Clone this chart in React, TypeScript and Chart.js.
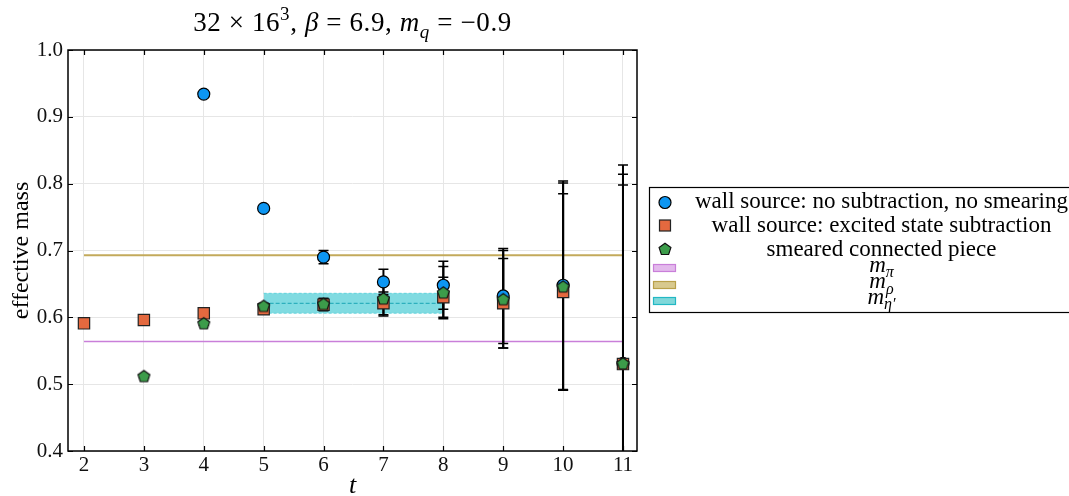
import React, { useEffect, useRef } from "react";
import { Chart, registerables } from "chart.js";

Chart.register(...registerables);

const FONT = "'Liberation Serif', 'Times New Roman', serif";

// axes
const tTicks = [2, 3, 4, 5, 6, 7, 8, 9, 10, 11];
const massTicks = [0.4, 0.5, 0.6, 0.7, 0.8, 0.9, 1.0];
const tRange = [1.733, 11.234];
const massRange = [0.4, 1.0];

// wall source: no subtraction, no smearing
const tWall = [4, 5, 6, 7, 8, 9, 10, 11];
const wallMass = [0.934, 0.763, 0.69, 0.653, 0.648, 0.632, 0.648, 0.531];
const wallErr = [0.002, 0.003, 0.01, 0.019, 0.036, 0.071, 0.156, 0.297];

// wall source: excited state subtraction
const tSub = [2, 3, 4, 5, 6, 7, 8, 9, 10, 11];
const subMass = [0.591, 0.596, 0.606, 0.612, 0.619, 0.621, 0.63, 0.621, 0.638, 0.53];
const subErr = [0.003, 0.003, 0.004, 0.005, 0.009, 0.017, 0.03, 0.067, 0.147, 0.268];

// smeared connected piece
const tSmear = [3, 4, 5, 6, 7, 8, 9, 10, 11];
const smearMass = [0.512, 0.591, 0.617, 0.62, 0.628, 0.637, 0.627, 0.646, 0.531];
const smearErr = [0.002, 0.003, 0.004, 0.008, 0.026, 0.039, 0.073, 0.155, 0.283];

// reference masses
const mPi = 0.564;
const mRho = 0.693;
const mEta = 0.621;
const mEtaErr = 0.015;
const refLineT = [2, 11];
const etaBandT = [5, 8];

// colours
const BLUE = "#0d96f2";
const ORANGE = "#e4693f";
const GREEN = "#3c9c4a";
const PI_LINE = "#c97fd9";
const RHO_LINE = "#c3aa5b";
const ETA_LINE = "#1aa6b4";

type Seg = { t: string; it?: boolean; sc?: "sub" | "sup" };

const titleSegs: Seg[] = [
  { t: "32 × 16" },
  { t: "3", sc: "sup" },
  { t: ", " },
  { t: "β", it: true },
  { t: " = 6.9, " },
  { t: "m", it: true },
  { t: "q", it: true, sc: "sub" },
  { t: " = −0.9" },
];

const legendText = [
  "wall source: no subtraction, no smearing",
  "wall source: excited state subtraction",
  "smeared connected piece",
];
const legendMath: Seg[][] = [
  [{ t: "m", it: true }, { t: "π", it: true, sc: "sub" }],
  [{ t: "m", it: true }, { t: "ρ", it: true, sc: "sub" }],
  [{ t: "m", it: true }, { t: "η′", it: true, sc: "sub" }],
];

function drawRich(
  ctx: CanvasRenderingContext2D,
  segs: Seg[],
  cx: number,
  base: number,
  size: number,
  spacing = 0
) {
  const fontFor = (s: Seg) => `${s.it ? "italic " : ""}${s.sc ? Math.round(size * 0.7) : size}px ${FONT}`;
  (ctx as any).letterSpacing = `${spacing}px`;
  let total = 0;
  const widths = segs.map((s) => {
    ctx.font = fontFor(s);
    const w = ctx.measureText(s.t).width;
    total += w;
    return w;
  });
  let x = cx - total / 2;
  ctx.textAlign = "left";
  ctx.textBaseline = "alphabetic";
  segs.forEach((s, i) => {
    ctx.font = fontFor(s);
    const dy = s.sc === "sub" ? size * 0.25 : s.sc === "sup" ? -size * 0.4 : 0;
    ctx.fillText(s.t, x, base + dy);
    x += widths[i];
  });
  (ctx as any).letterSpacing = "0px";
}

function drawPentagon(ctx: CanvasRenderingContext2D, cx: number, cy: number, r: number) {
  ctx.beginPath();
  for (let k = 0; k < 5; k++) {
    const a = -Math.PI / 2 + (k * 2 * Math.PI) / 5;
    const px = cx + r * Math.cos(a);
    const py = cy + r * Math.sin(a);
    if (k === 0) ctx.moveTo(px, py);
    else ctx.lineTo(px, py);
  }
  ctx.closePath();
  ctx.fillStyle = GREEN;
  ctx.fill();
  ctx.strokeStyle = "#111";
  ctx.lineWidth = 1.2;
  ctx.stroke();
}

function makePentagonCanvas(r: number) {
  const c = document.createElement("canvas");
  const s = Math.ceil(r * 2 + 4);
  c.width = s;
  c.height = s;
  const g = c.getContext("2d")!;
  drawPentagon(g, s / 2, s / 2 + 0.5, r);
  return c;
}

const pts = (ts: number[], vs: number[]) => ts.map((t, i) => ({ x: t, y: vs[i] }));
const hline = (ts: number[], v: number) => ts.map((t) => ({ x: t, y: v }));

const errorSets = [
  { ts: tWall, vs: wallMass, es: wallErr },
  { ts: tSub, vs: subMass, es: subErr },
  { ts: tSmear, vs: smearMass, es: smearErr },
];

const errorBarPlugin = {
  id: "errorBars",
  beforeDatasetDraw(chart: any, args: any) {
    if (args.index !== 5) return;
    const { ctx, chartArea, scales } = chart;
    const xs = scales.x;
    const ys = scales.y;
    ctx.save();
    ctx.beginPath();
    ctx.rect(chartArea.left, chartArea.top, chartArea.right - chartArea.left, chartArea.bottom - chartArea.top);
    ctx.clip();
    ctx.strokeStyle = "#000";
    errorSets.forEach(({ ts, vs, es }) => {
      ts.forEach((t, i) => {
        const px = xs.getPixelForValue(t);
        const y1 = ys.getPixelForValue(vs[i] + es[i]);
        const y2 = ys.getPixelForValue(vs[i] - es[i]);
        ctx.lineWidth = 2;
        ctx.beginPath();
        ctx.moveTo(px, y1);
        ctx.lineTo(px, y2);
        ctx.stroke();
        ctx.lineWidth = 1.5;
        ctx.beginPath();
        ctx.moveTo(px - 5, y1);
        ctx.lineTo(px + 5, y1);
        ctx.moveTo(px - 5, y2);
        ctx.lineTo(px + 5, y2);
        ctx.stroke();
      });
    });
    ctx.restore();
  },
};

const framePlugin = {
  id: "frame",
  afterDatasetsDraw(chart: any) {
    const { ctx, chartArea, scales } = chart;
    const { left, right, top, bottom } = chartArea;
    ctx.save();
    ctx.strokeStyle = "#000";
    ctx.lineWidth = 1.2;
    ctx.beginPath();
    tTicks.forEach((t) => {
      const px = Math.round(scales.x.getPixelForValue(t)) + 0.5;
      ctx.moveTo(px, bottom);
      ctx.lineTo(px, bottom - 5);
      ctx.moveTo(px, top);
      ctx.lineTo(px, top + 5);
    });
    massTicks.forEach((v) => {
      const py = Math.round(scales.y.getPixelForValue(v)) + 0.5;
      ctx.moveTo(left, py);
      ctx.lineTo(left + 5, py);
      ctx.moveTo(right, py);
      ctx.lineTo(right - 5, py);
    });
    ctx.stroke();
    ctx.lineWidth = 1.5;
    ctx.strokeRect(left, top, right - left, bottom - top);
    ctx.restore();
  },
};

const decorPlugin = {
  id: "decor",
  afterDraw(chart: any) {
    const { ctx, chartArea } = chart;
    ctx.save();
    ctx.fillStyle = "#000";
    drawRich(ctx, titleSegs, (chartArea.left + chartArea.right) / 2, 31, 27, 0.6);

    // legend frame
    ctx.strokeStyle = "#000";
    ctx.lineWidth = 1.2;
    ctx.fillStyle = "#fff";
    ctx.fillRect(649, 187, 440, 126);
    ctx.strokeRect(649.5, 187.5, 440, 125);

    const mx = 665;
    // circle
    ctx.beginPath();
    ctx.arc(mx, 202.5, 6, 0, Math.PI * 2);
    ctx.fillStyle = BLUE;
    ctx.fill();
    ctx.strokeStyle = "#000";
    ctx.lineWidth = 1.2;
    ctx.stroke();
    // square
    ctx.fillStyle = ORANGE;
    ctx.fillRect(mx - 5.5, 225.5 - 5.5, 11, 11);
    ctx.strokeStyle = "#222";
    ctx.strokeRect(mx - 5.5, 225.5 - 5.5, 11, 11);
    // pentagon
    drawPentagon(ctx, mx, 249.5, 6.2);
    // patches
    const patches = [
      { y: 268, fill: "#e3b9ec", stroke: PI_LINE },
      { y: 285, fill: "#d8c98e", stroke: "#b9a04a" },
      { y: 301, fill: "#80d8da", stroke: "#22b8c4" },
    ];
    patches.forEach((p) => {
      ctx.fillStyle = p.fill;
      ctx.fillRect(653.5, p.y - 3.5, 22, 7);
      ctx.strokeStyle = p.stroke;
      ctx.lineWidth = 1.2;
      ctx.strokeRect(653.5, p.y - 3.5, 22, 7);
    });

    ctx.fillStyle = "#000";
    const cx = 881.5;
    const bases = [208, 232, 255.5];
    legendText.forEach((txt, i) => drawRich(ctx, [{ t: txt }], cx, bases[i], 23));
    const mathBases = [271.5, 288, 303.5];
    legendMath.forEach((segs, i) => drawRich(ctx, segs, cx, mathBases[i], 23));
    ctx.restore();
  },
};

export default function App() {
  const ref = useRef<HTMLCanvasElement>(null);
  useEffect(() => {
    if (!ref.current) return;
    const pentagon = makePentagonCanvas(6.2);
    const chart = new Chart(ref.current, {
      type: "line",
      data: {
        datasets: [
          {
            label: "eta_hi",
            data: hline(etaBandT, mEta + mEtaErr),
            showLine: true,
            pointRadius: 0,
            borderColor: "rgba(23,190,207,0.5)",
            borderWidth: 1,
            borderDash: [3, 2],
            fill: "+1",
            backgroundColor: "rgba(23,190,200,0.55)",
            order: 10,
          },
          {
            label: "eta_lo",
            data: hline(etaBandT, mEta - mEtaErr),
            showLine: true,
            pointRadius: 0,
            borderColor: "rgba(23,190,207,0.5)",
            borderWidth: 1,
            borderDash: [3, 2],
            fill: false,
            order: 10,
          },
          {
            label: "eta",
            data: hline(etaBandT, mEta),
            showLine: true,
            pointRadius: 0,
            borderColor: ETA_LINE,
            borderWidth: 1,
            borderDash: [4, 2],
            fill: false,
            order: 9,
          },
          {
            label: "pi",
            data: hline(refLineT, mPi),
            showLine: true,
            pointRadius: 0,
            borderColor: PI_LINE,
            borderWidth: 1.5,
            fill: false,
            order: 8,
          },
          {
            label: "rho",
            data: hline(refLineT, mRho),
            showLine: true,
            pointRadius: 0,
            borderColor: RHO_LINE,
            borderWidth: 2,
            fill: false,
            order: 8,
          },
          {
            label: "wall source: no subtraction, no smearing",
            data: pts(tWall, wallMass),
            showLine: false,
            pointStyle: "circle",
            pointRadius: 6,
            backgroundColor: BLUE,
            borderColor: "#000",
            borderWidth: 1.2,
            order: 3,
          },
          {
            label: "wall source: excited state subtraction",
            data: pts(tSub, subMass),
            showLine: false,
            pointStyle: "rect",
            pointRadius: 8,
            backgroundColor: ORANGE,
            borderColor: "#222",
            borderWidth: 1.2,
            order: 2,
          },
          {
            label: "smeared connected piece",
            data: pts(tSmear, smearMass),
            showLine: false,
            pointStyle: pentagon as any,
            pointRadius: 6,
            backgroundColor: GREEN,
            borderColor: "#111",
            borderWidth: 1,
            order: 1,
          },
        ] as any,
      },
      options: {
        responsive: false,
        animation: false,
        devicePixelRatio: 1,
        layout: { padding: { top: 50, right: 432, left: 0, bottom: 0 } },
        plugins: {
          legend: { display: false },
          tooltip: { enabled: false },
          title: { display: false },
        },
        scales: {
          x: {
            type: "linear",
            min: tRange[0],
            max: tRange[1],
            afterBuildTicks: (s: any) => {
              s.ticks = tTicks.map((v) => ({ value: v }));
            },
            afterFit: (s: any) => {
              s.height = 45;
            },
            grid: { color: "#e6e6e6", lineWidth: 1, drawTicks: false },
            border: { display: false },
            ticks: {
              font: { family: FONT, size: 21 },
              color: "#111",
              padding: 2,
              maxRotation: 0,
              autoSkip: false,
              callback: (v: any) => String(v),
            },
            title: {
              display: true,
              text: "t",
              font: { family: FONT, size: 26, style: "italic", lineHeight: 1 },
              color: "#000",
              padding: { top: 0, bottom: -3 },
            },
          },
          y: {
            type: "linear",
            min: massRange[0],
            max: massRange[1],
            afterBuildTicks: (s: any) => {
              s.ticks = massTicks.map((v) => ({ value: v }));
            },
            afterFit: (s: any) => {
              s.width = 68;
            },
            grid: { color: "#e6e6e6", lineWidth: 1, drawTicks: false },
            border: { display: false },
            ticks: {
              font: { family: FONT, size: 21 },
              color: "#111",
              padding: 5,
              autoSkip: false,
              callback: (v: any) => Number(v).toFixed(1),
            },
            title: {
              display: true,
              text: "effective mass",
              font: { family: FONT, size: 24, lineHeight: 1 },
              color: "#000",
              padding: { top: 10, bottom: 0 },
            },
          },
        },
      } as any,
      plugins: [errorBarPlugin, framePlugin, decorPlugin],
    });
    return () => chart.destroy();
  }, []);
  return (
    <div style={{ position: "fixed", left: 0, top: 0, width: 1069, height: 496, background: "#fff" }}>
      <canvas ref={ref} width={1069} height={496} style={{ display: "block" }} />
    </div>
  );
}
